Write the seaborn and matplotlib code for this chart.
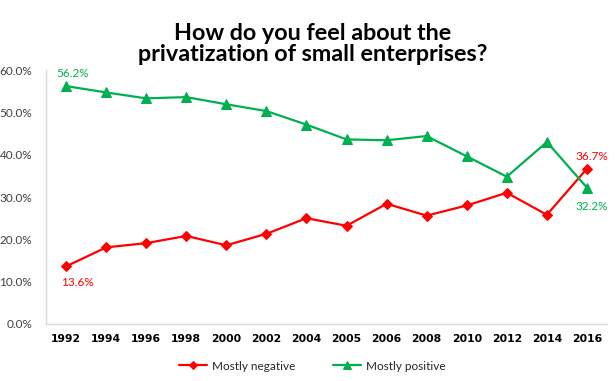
import numpy as np
import pandas as pd
import matplotlib
matplotlib.use("Agg")
import matplotlib.pyplot as plt
import seaborn as sns
from matplotlib.ticker import FuncFormatter

years = ["1992", "1994", "1996", "1998", "2000", "2002", "2004", "2005",
         "2006", "2008", "2010", "2012", "2014", "2016"]
mostly_negative = [13.6, 18.1, 19.1, 20.8, 18.6, 21.3, 25.0, 23.2, 28.4, 25.6, 28.0, 31.0, 25.8, 36.7]
mostly_positive = [56.2, 54.7, 53.3, 53.6, 51.9, 50.3, 47.1, 43.6, 43.4, 44.4, 39.6, 34.8, 43.0, 32.2]
yticks = [0, 10, 20, 30, 40, 50, 60]
title = "How do you feel about the\nprivatization of small enterprises?"

RED = "#FF0000"
GREEN = "#00B050"

sns.set_theme(style="white")
plt.rcParams["font.family"] = ["Lato", "DejaVu Sans"]

fig = plt.figure(figsize=(6.15, 3.81), dpi=100)
ax = fig.add_axes([46 / 615, 1 - 324 / 381, 561 / 615, 254 / 381])

pos = np.arange(len(years))
df = pd.DataFrame({"pos": pos, "neg": mostly_negative, "posv": mostly_positive})

sns.lineplot(data=df, x="pos", y="neg", ax=ax, color=RED, marker="D",
             markersize=5.5, markeredgecolor=RED, linewidth=1.6, label="Mostly negative")
sns.lineplot(data=df, x="pos", y="posv", ax=ax, color=GREEN, marker="^",
             markersize=6.5, markeredgecolor=GREEN, linewidth=1.6, label="Mostly positive")

ax.set_xlim(-0.5, len(years) - 0.5)
ax.set_ylim(0, 60)
ax.set_yticks(yticks)
ax.yaxis.set_major_formatter(FuncFormatter(lambda v, p: f"{v:.1f}%"))
ax.set_xticks(pos)
ax.set_xticklabels(years, fontweight="bold", fontsize=7.8, color="black",
                   family=["DejaVu Sans"])
ax.tick_params(axis="y", labelsize=8.5, labelcolor="#404040", length=0, pad=10)
ax.tick_params(axis="x", length=0, pad=7)
ax.set_xlabel("")
ax.set_ylabel("")

for s in ["top", "right"]:
    ax.spines[s].set_visible(False)
for s in ["left", "bottom"]:
    ax.spines[s].set_color("#D9D9D9")
    ax.spines[s].set_linewidth(1)

# data labels
ax.annotate(f"{mostly_positive[0]:.1f}%", (pos[0], mostly_positive[0]),
            xytext=(5, 9), textcoords="offset points", ha="center", va="center",
            color=GREEN, fontsize=8.5)
ax.annotate(f"{mostly_negative[0]:.1f}%", (pos[0], mostly_negative[0]),
            xytext=(8.5, -11.5), textcoords="offset points", ha="center", va="center",
            color=RED, fontsize=8.5)
ax.annotate(f"{mostly_negative[-1]:.1f}%", (pos[-1], mostly_negative[-1]),
            xytext=(3.6, 8.6), textcoords="offset points", ha="center", va="center",
            color=RED, fontsize=8.5)
ax.annotate(f"{mostly_positive[-1]:.1f}%", (pos[-1], mostly_positive[-1]),
            xytext=(3.6, -13.7), textcoords="offset points", ha="center", va="center",
            color=GREEN, fontsize=8.5)

ax.get_legend().remove()
handles, labels = ax.get_legend_handles_labels()
fig.legend(handles, labels, loc="center", bbox_to_anchor=(312 / 615, 1 - 366 / 381),
           ncol=2, frameon=False, fontsize=8.5, handlelength=2.4, columnspacing=3.2,
           handletextpad=0.4, markerscale=0.8)

fig.text(313 / 615, 1 - 44 / 381, title, ha="center", va="center",
         fontsize=16.8, fontweight="bold", color="black", linespacing=1.05)

fig.savefig("out.png", dpi=100)
